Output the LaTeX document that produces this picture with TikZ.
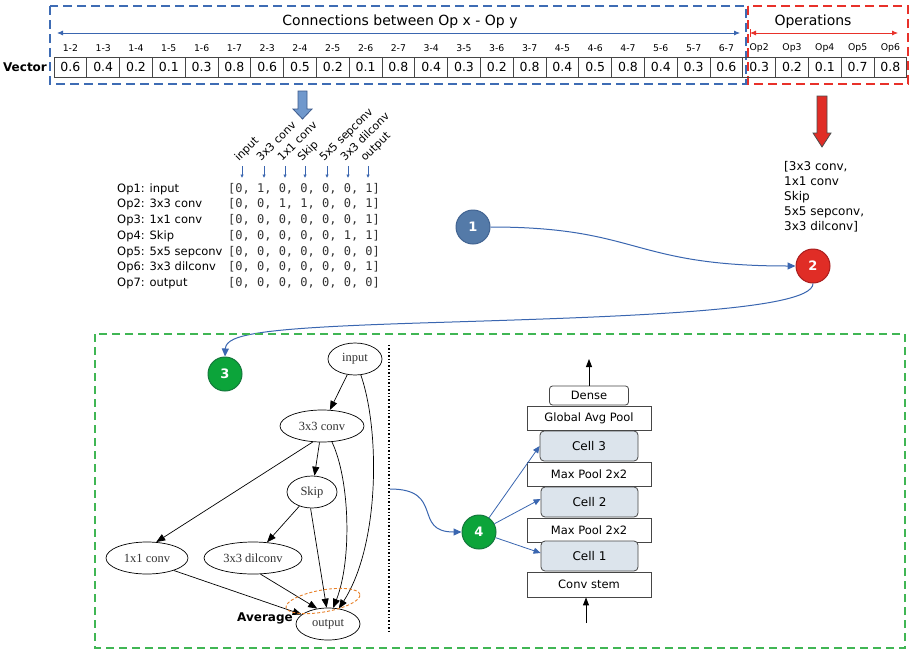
\documentclass[tikz,border=0pt]{standalone}
\usepackage{fontspec}
\setmainfont{DejaVu Sans}
\setmonofont{DejaVu Sans Mono}
\newfontfamily\gvfont{Liberation Serif}
\usetikzlibrary{arrows.meta,shapes.geometric,calc}

\definecolor{boxblue}{RGB}{62,108,180}
\definecolor{boxred}{RGB}{232,49,42}
\definecolor{boxgreen}{RGB}{64,182,84}
\definecolor{connblue}{RGB}{58,102,176}
\definecolor{oneblue}{RGB}{84,122,168}
\definecolor{onerim}{RGB}{66,100,146}
\definecolor{twored}{RGB}{224,45,38}
\definecolor{tworim}{RGB}{170,30,30}
\definecolor{okgreen}{RGB}{12,164,58}
\definecolor{okrim}{RGB}{20,120,60}
\definecolor{cellgray}{RGB}{70,70,70}
\definecolor{cellfill}{RGB}{220,228,236}
\definecolor{avgorange}{RGB}{232,128,40}
\definecolor{arrblue}{RGB}{112,152,204}
\definecolor{arrblueline}{RGB}{60,90,140}

\tikzset{
  fs/.style={font=\fontsize{#1}{#1}\selectfont},
  cellbox/.style={draw=cellgray, line width=0.8pt, minimum width=32.8pt,
    minimum height=20pt, inner sep=0pt, fs=12.5},
  toplab/.style={inner sep=0pt, fs=9.3},
  stepnum/.style={circle, minimum size=34pt, inner sep=0pt, line width=1pt,
    text=white, font=\fontsize{13}{13}\selectfont\bfseries},
  rowlab/.style={anchor=west, inner sep=0pt, text height=9pt, text depth=2.5pt, fs=11.5},
  rowvec/.style={anchor=west, inner sep=0pt, text height=9pt, text depth=2.5pt,
    font=\ttfamily\fontsize{12}{12}\selectfont, text=black!80},
  colhead/.style={rotate=45, anchor=base west, inner sep=0pt, fs=11},
  gvnode/.style={ellipse, draw, line width=0.7pt, inner sep=0pt,
    font=\gvfont\fontsize{12.5}{12.5}\selectfont, text=black!80},
  gvedge/.style={line width=0.7pt, -{Triangle[length=9pt,width=7pt]}},
  layer/.style={draw=cellgray, line width=0.8pt, fill=white, minimum width=124pt,
    minimum height=24pt, inner sep=0pt, fs=11.5},
  cellblk/.style={draw=cellgray, line width=0.8pt, fill=cellfill, rounded corners=4pt,
    minimum width=98pt, minimum height=30pt, inner sep=0pt, fs=12},
  flow/.style={connblue, line width=1pt, -{Triangle[length=8pt,width=7pt]}},
  thinflow/.style={connblue, line width=0.8pt, -{Triangle[length=7pt,width=6pt]}},
}

\begin{document}
\begin{tikzpicture}[x=1pt,y=-1pt]
\useasboundingbox[fill=white] (0,0) rectangle (912,653);

% ---------- encoded vector ----------
\draw[boxblue, line width=1.6pt, dash pattern=on 9pt off 5pt] (50,6) rectangle (746,84);
\draw[boxred, line width=1.6pt, dash pattern=on 9pt off 5pt] (748,6) rectangle (908,84);

\node[fs=14] (conntitle) at (400,22) {Connections between Op x - Op y};
\node[fs=14] (optitle) at (813,22) {Operations};
\coordinate (ca) at (57,33);
\coordinate (cb) at (740,33);
\draw[connblue, line width=0.8pt, {Latex[length=6pt,width=5pt]}-{Latex[length=6pt,width=5pt]}] (ca) -- (cb);
\coordinate (oa) at (750,33);
\coordinate (ob) at (898,33);
\draw[boxred, line width=0.8pt, {Latex[length=6pt,width=5pt]}-{Latex[length=6pt,width=5pt]}] (oa) -- (ob);
\draw[boxred, line width=0.8pt] (750,29) -- (750,37);

\node[font=\fontsize{12}{12}\selectfont\bfseries] (veclab) at (25,67) {Vector};

\foreach \lab/\val [count=\i from 0] in {1-2/0.6,1-3/0.4,1-4/0.2,1-5/0.1,1-6/0.3,1-7/0.8,
    2-3/0.6,2-4/0.5,2-5/0.2,2-6/0.1,2-7/0.8,3-4/0.4,3-5/0.3,3-6/0.2,3-7/0.8,
    4-5/0.4,4-6/0.5,4-7/0.8,5-6/0.4,5-7/0.3,6-7/0.6,
    Op2/0.3,Op3/0.2,Op4/0.1,Op5/0.7,Op6/0.8}{
  \node[cellbox] (v\i) at ({54+32.8*(\i+0.5)},67) {\val};
  \node[toplab] (l\i) at ({54+32.8*(\i+0.5)},48) {\lab};
}

% ---------- block arrows ----------
\fill[arrblue, draw=arrblueline, line width=0.8pt]
  (298,91) -- (307,91) -- (307,109) -- (312,109) -- (302.5,119) -- (293,109) -- (298,109) -- cycle;
\fill[twored, draw=black!70, line width=0.8pt]
  (817,96) -- (827,96) -- (827,133) -- (831,133) -- (822,147) -- (813,133) -- (817,133) -- cycle;

% ---------- adjacency matrix ----------
\foreach \h/\x [count=\k] in {input/242,3x3 conv/264,1x1 conv/285,Skip/305,5x5 sepconv/327,3x3 dilconv/348,output/368}{
  \node[colhead] (h\k) at (\x-3,162) {\h};
  \coordinate (ht\k) at (\x,166);
  \coordinate (hb\k) at (\x,178);
  \draw[connblue, line width=0.6pt, -{Latex[length=3.5pt,width=3.5pt]}] (ht\k) -- (hb\k);
}

\foreach \lab/\row [count=\k from 0] in {
    Op1: input/{[0, 1, 0, 0, 0, 0, 1]},
    Op2: 3x3 conv/{[0, 0, 1, 1, 0, 0, 1]},
    Op3: 1x1 conv/{[0, 0, 0, 0, 0, 0, 1]},
    Op4: Skip/{[0, 0, 0, 0, 0, 1, 1]},
    Op5: 5x5 sepconv/{[0, 0, 0, 0, 0, 0, 0]},
    Op6: 3x3 dilconv/{[0, 0, 0, 0, 0, 0, 1]},
    Op7: output/{[0, 0, 0, 0, 0, 0, 0]}}{
  \node[rowlab] (r\k) at (117,{189+15.7*\k}) {\lab};
  \node[rowvec] (m\k) at (228,{189+15.7*\k}) {\row};
}

% ---------- operation list ----------
\node[anchor=north west, align=left, inner sep=0pt, font=\fontsize{12}{15}\selectfont] (oplist) at (784,161)
  {[3x3 conv,\\1x1 conv\\Skip\\5x5 sepconv,\\3x3 dilconv]};

% ---------- numbered steps ----------
\node[stepnum, fill=oneblue, draw=onerim] (s1) at (473,227) {1};
\node[stepnum, fill=twored, draw=tworim] (s2) at (813,266) {2};
\node[stepnum, fill=okgreen, draw=okrim] (s3) at (225,374) {3};
\node[stepnum, fill=okgreen, draw=okrim] (s4) at (479,532) {4};

\draw[flow] (s1.east) .. controls (640,227) and (630,266) .. (s2.west);
\draw[flow] (s2.south) .. controls (813,312) and (610,317) .. (420,323)
  .. controls (262,328) and (226,334) .. (s3.north);

% ---------- search result frame ----------
\draw[boxgreen, line width=1.6pt, dash pattern=on 8pt off 5pt] (95,334) rectangle (905,648);
\coordinate (divtop) at (389,345);
\coordinate (divbot) at (389,632);
\draw[line width=1.4pt, dotted] (divtop) -- (divbot);

% ---------- cell graph ----------
\node[gvnode, minimum width=54pt, minimum height=32pt] (gin) at (355,359) {input};
\node[gvnode, minimum width=84pt, minimum height=32pt] (gcv3) at (322,426) {3x3 conv};
\node[gvnode, minimum width=50pt, minimum height=32pt] (gskip) at (312,492) {Skip};
\node[gvnode, minimum width=82pt, minimum height=32pt] (gcv1) at (147,558) {1x1 conv};
\node[gvnode, minimum width=98pt, minimum height=32pt] (gdil) at (253,558) {3x3 dilconv};
\node[gvnode, minimum width=64pt, minimum height=32pt] (gout) at (328,624) {output};

\draw[gvedge] (gin) -- (gcv3);
\draw[gvedge] (gin.-70) .. controls (380,430) and (380,545) .. (gout.55);
\draw[gvedge] (gcv3) -- (gskip);
\draw[gvedge] (gcv3.-120) -- (gcv1.60);
\draw[gvedge] (gcv3.-58) .. controls (350,480) and (352,560) .. (gout.72);
\draw[gvedge] (gskip) -- (gdil);
\draw[gvedge] (gskip.-95) -- (gout.95);
\draw[gvedge] (gcv1.-25) -- (gout.160);
\draw[gvedge] (gdil.-65) -- (gout.125);

\node[ellipse, draw=avgorange, line width=0.9pt, dash pattern=on 3pt off 2pt,
  minimum width=75pt, minimum height=22pt, inner sep=0pt, rotate=10] (avg) at (323,601) {};
\node[font=\fontsize{12}{12}\selectfont\bfseries] (avglab) at (265,618) {Average};

% ---------- network stack ----------
\node[layer, minimum width=79pt, minimum height=19pt, rounded corners=3pt] (dense) at (589,395.5) {Dense};
\node[layer] (gap) at (589,418) {Global Avg Pool};
\node[cellblk] (cell3) at (589,446) {Cell 3};
\node[layer] (mp2) at (589,474) {Max Pool 2x2};
\node[cellblk, minimum width=97pt] (cell2) at (589.5,502) {Cell 2};
\node[layer] (mp1) at (589,530) {Max Pool 2x2};
\node[cellblk, minimum width=97pt] (cell1) at (589.5,556) {Cell 1};
\node[layer, minimum height=25pt] (stem) at (589,584.5) {Conv stem};

\coordinate (netout) at (589,359);
\draw[line width=0.9pt, -{Triangle[length=8pt,width=6pt]}] (dense.north) -- (netout);
\coordinate (netin) at (586,623);
\draw[line width=0.9pt, -{Triangle[length=8pt,width=6pt]}] (netin) -- (netin |- stem.south);

\coordinate (gexit) at (390,489);
\draw[flow] (gexit) .. controls (445,489) and (412,532) .. (s4.west);
\draw[thinflow] (s4) -- (cell3.west);
\draw[thinflow] (s4) -- ($(cell2.west)+(0,-3)$);
\draw[thinflow] (s4) -- ($(cell1.west)+(0,-3)$);
\end{tikzpicture}
\end{document}
